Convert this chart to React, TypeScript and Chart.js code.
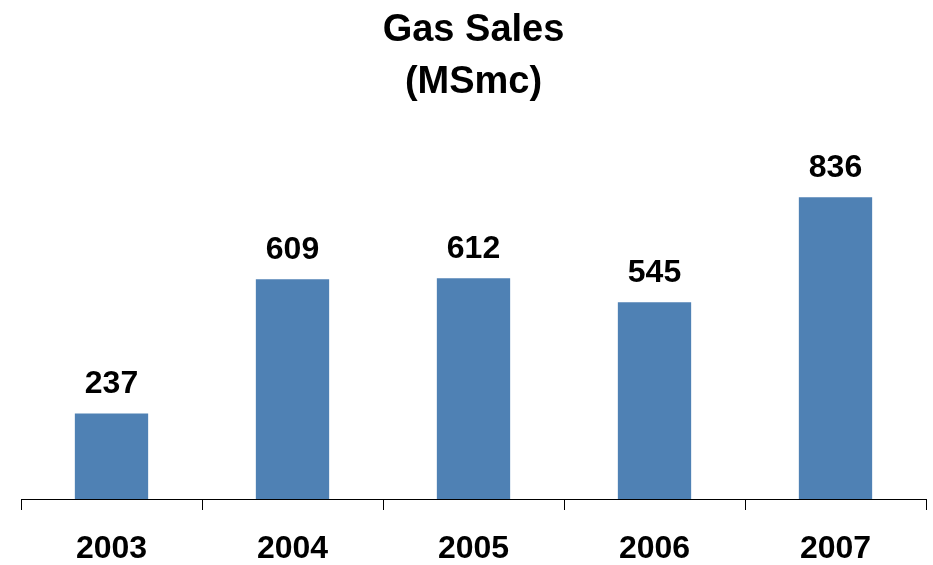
import React, { useEffect, useRef } from "react";
import { Chart, registerables } from "chart.js";

Chart.register(...registerables);

const categories = ["2003", "2004", "2005", "2006", "2007"];
const sales = [237, 609, 612, 545, 836];
const titleLines = ["Gas Sales", "(MSmc)"];

const FONT = "'Liberation Sans', Arial, sans-serif";

const valueLabels = {
  id: "valueLabels",
  afterDatasetsDraw(chart: any) {
    const ctx = chart.ctx;
    const meta = chart.getDatasetMeta(0);
    ctx.save();
    ctx.font = `bold 32px ${FONT}`;
    ctx.fillStyle = "#000";
    ctx.textAlign = "center";
    ctx.textBaseline = "alphabetic";
    meta.data.forEach((bar: any, i: number) => {
      ctx.fillText(String(sales[i]), bar.x, bar.y - 20);
    });
    ctx.restore();
  },
};

export default function App() {
  const ref = useRef<HTMLCanvasElement>(null);
  useEffect(() => {
    document.body.style.margin = "0";
    const chart = new Chart(ref.current!, {
      type: "bar",
      data: {
        labels: categories,
        datasets: [
          {
            data: sales,
            backgroundColor: "#4F81B4",
            barPercentage: 0.405,
            categoryPercentage: 1,
          },
        ],
      },
      options: {
        animation: false,
        responsive: false,
        layout: { padding: { left: 21, right: 7, top: 4, bottom: 0 } },
        plugins: {
          legend: { display: false },
          tooltip: { enabled: false },
          title: {
            display: true,
            text: titleLines,
            color: "#000",
            font: { family: FONT, size: 38, weight: "bold", lineHeight: 1.37 },
            padding: { top: 0, bottom: 30 },
          },
        },
        scales: {
          x: {
            afterFit: (scale: any) => {
              scale.height = 66;
            },
            grid: {
              display: true,
              drawOnChartArea: false,
              drawTicks: true,
              tickLength: 11,
              tickColor: "#000",
              offset: true,
            },
            border: { display: true, color: "#000", width: 1 },
            ticks: {
              color: "#000",
              padding: 25,
              font: { family: FONT, size: 32, weight: "bold", lineHeight: 0.9 },
            },
          },
          y: {
            display: false,
            min: 0,
            max: 1000,
          },
        },
      },
      plugins: [valueLabels],
    });
    return () => chart.destroy();
  }, []);
  return <canvas ref={ref} width={933} height={565} style={{ display: "block" }} />;
}
